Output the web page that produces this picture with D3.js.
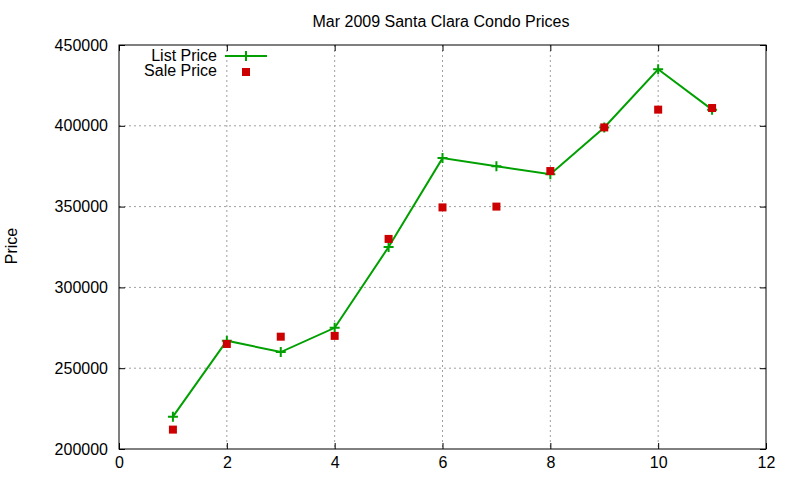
<!DOCTYPE html>
<html>
<head>
<meta charset="utf-8">
<script src="https://cdn.jsdelivr.net/npm/d3@7"></script>
<style>
  body { margin: 0; background: #fff; }
  svg text { font-family: "Liberation Sans", Arial, sans-serif; fill: #000; }
</style>
</head>
<body>
<div id="chart"></div>
<script>
// chart data
var months = [1, 2, 3, 4, 5, 6, 7, 8, 9, 10, 11];
var listPrice = [220000, 267000, 260000, 275000, 325000, 380000, 375000, 370000, 399000, 435000, 410000];
var salePrice = [212000, 265000, 269500, 270000, 330000, 349500, 350000, 372000, 399000, 410000, 411000];
var xTicks = [0, 2, 4, 6, 8, 10, 12];
var yTicks = [200000, 250000, 300000, 350000, 400000, 450000];

var svgWidth = 800, svgHeight = 480;
var margin = { top: 45, right: 34, bottom: 31, left: 119 };
var width = svgWidth - margin.left - margin.right;
var height = svgHeight - margin.top - margin.bottom;

var svg = d3.select("#chart").append("svg")
  .attr("width", svgWidth)
  .attr("height", svgHeight);

var chartGroup = svg.append("g")
  .attr("transform", `translate(${margin.left}, ${margin.top})`);

var xScale = d3.scaleLinear().domain([0, 12]).range([0, width]);
var yScale = d3.scaleLinear().domain([200000, 450000]).range([height, 0]);

// grid lines (skip the ones sitting on the border)
chartGroup.append("g").selectAll("line")
  .data(xTicks.filter(d => d > 0 && d < 12))
  .enter().append("line")
  .attr("x1", d => xScale(d)).attr("x2", d => xScale(d))
  .attr("y1", 0).attr("y2", height)
  .attr("stroke", "#a0a0a0").attr("stroke-dasharray", "2,3");

chartGroup.append("g").selectAll("line")
  .data(yTicks.filter(d => d > 200000 && d < 450000))
  .enter().append("line")
  .attr("x1", 0).attr("x2", width)
  .attr("y1", d => yScale(d)).attr("y2", d => yScale(d))
  .attr("stroke", "#a0a0a0").attr("stroke-dasharray", "2,3");

// axes, gnuplot style: ticks inside, mirrored
var bottomAxis = d3.axisBottom(xScale).tickValues(xTicks).tickSizeInner(-6).tickSizeOuter(0).tickPadding(8);
var leftAxis = d3.axisLeft(yScale).tickValues(yTicks).tickFormat(d3.format("d")).tickSizeInner(-6).tickSizeOuter(0).tickPadding(11);
var topAxis = d3.axisTop(xScale).tickValues(xTicks).tickSizeInner(-6).tickSizeOuter(0).tickFormat("");
var rightAxis = d3.axisRight(yScale).tickValues(yTicks).tickSizeInner(-6).tickSizeOuter(0).tickFormat("");

chartGroup.append("g").attr("transform", `translate(0, ${height})`).call(bottomAxis);
chartGroup.append("g").call(leftAxis);
chartGroup.append("g").call(topAxis);
chartGroup.append("g").attr("transform", `translate(${width}, 0)`).call(rightAxis);

chartGroup.selectAll(".domain").remove();
chartGroup.selectAll(".tick line").attr("stroke", "#000");
chartGroup.selectAll(".tick text").style("font-size", "16px").attr("fill", "#000");

// border
chartGroup.append("rect")
  .attr("width", width).attr("height", height)
  .attr("fill", "none").attr("stroke", "#000").attr("stroke-width", 1);

// list price line + crosses
var line = d3.line()
  .x((d, i) => xScale(months[i]))
  .y(d => yScale(d));

chartGroup.append("path")
  .datum(listPrice)
  .attr("d", line)
  .attr("fill", "none")
  .attr("stroke", "#00a000")
  .attr("stroke-width", 2);

chartGroup.append("g").selectAll("path")
  .data(listPrice)
  .enter().append("path")
  .attr("d", "M-5,0H5M0,-5V5")
  .attr("transform", (d, i) => `translate(${xScale(months[i])}, ${yScale(d)})`)
  .attr("stroke", "#00a000")
  .attr("stroke-width", 2);

// sale price squares
chartGroup.append("g").selectAll("rect")
  .data(salePrice)
  .enter().append("rect")
  .attr("x", (d, i) => xScale(months[i]) - 4)
  .attr("y", d => yScale(d) - 4)
  .attr("width", 8).attr("height", 8)
  .attr("fill", "#cc0000");

// legend
var legend = svg.append("g");
legend.append("text")
  .attr("x", 217).attr("y", 61)
  .attr("text-anchor", "end").style("font-size", "16px")
  .text("List Price");
legend.append("line")
  .attr("x1", 225).attr("x2", 267).attr("y1", 56).attr("y2", 56)
  .attr("stroke", "#00a000").attr("stroke-width", 2);
legend.append("path")
  .attr("d", "M-5,0H5M0,-5V5")
  .attr("transform", "translate(246, 56)")
  .attr("stroke", "#00a000").attr("stroke-width", 2);
legend.append("text")
  .attr("x", 217).attr("y", 76)
  .attr("text-anchor", "end").style("font-size", "16px")
  .text("Sale Price");
legend.append("rect")
  .attr("x", 242).attr("y", 68).attr("width", 8).attr("height", 8)
  .attr("fill", "#cc0000");

// title
svg.append("text")
  .attr("x", 441).attr("y", 27)
  .attr("text-anchor", "middle").style("font-size", "16px")
  .text("Mar 2009 Santa Clara Condo Prices");

// y label
svg.append("text")
  .attr("transform", "translate(17, 246) rotate(-90)")
  .attr("text-anchor", "middle").style("font-size", "16px")
  .text("Price");
</script>
</body>
</html>
